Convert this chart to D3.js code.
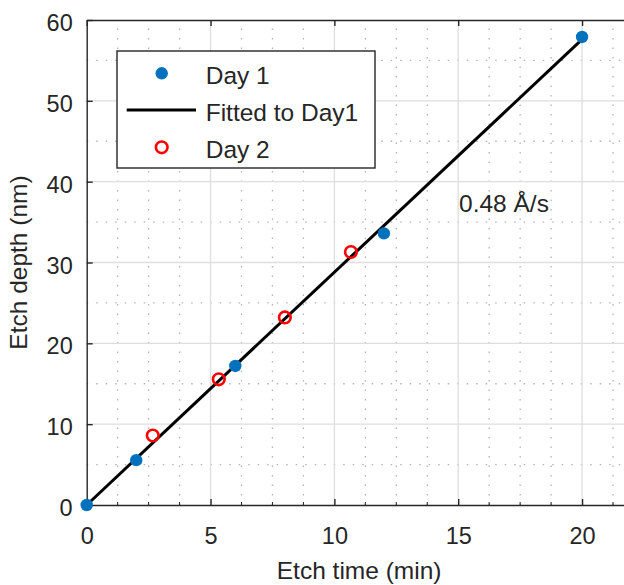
<!DOCTYPE html>
<html>
<head>
<meta charset="utf-8">
<script src="https://cdn.jsdelivr.net/npm/d3@7"></script>
<style>
  html, body { margin: 0; padding: 0; background: #fff; }
  svg { display: block; }
  text { font-family: "Liberation Sans", Arial, sans-serif; fill: #262626; }
</style>
</head>
<body>
<script>
// Etch depth measurements (time in min, depth in nm)
const day1Time  = [0, 2, 6, 12, 20];
const day1Depth = [0, 5.55, 17.2, 33.6, 57.9];
const day2Time  = [2.667, 5.333, 8, 10.667];
const day2Depth = [8.6, 15.55, 23.2, 31.3];

// Linear fit to Day 1: 0.48 Å/s = 2.88 nm/min
const rateAngstromPerSec = 0.48;
const fitSlope = rateAngstromPerSec * 0.1 * 60; // nm/min
const fitRange = [0, 20];

const xTicks = [0, 5, 10, 15, 20];
const yTicks = [0, 10, 20, 30, 40, 50, 60];
const xMinorStep = 1.25;
const yMinorStep = 5;

const legendLabels = ["Day 1", "Fitted to Day1", "Day 2"];
const annotationText = "0.48 Å/s";

const W = 624, H = 585;
const blue = "#0072BD", red = "#FF0000", axisColor = "#262626";

const svg = d3.select("body").append("svg").attr("width", W).attr("height", H);

const x = d3.scaleLinear().domain([0, 22]).range([86.7, 631.6]);
const y = d3.scaleLinear().domain([0, 60]).range([505, 20]);
const [x0, x1] = x.range();
const [yB, yT] = y.range();

// minor grid (dotted)
const xMinor = d3.range(0, 22 + 1e-9, xMinorStep).filter(v => Math.abs(v / 5 - Math.round(v / 5)) > 1e-6);
const yMinor = d3.range(0, 60 + 1e-9, yMinorStep).filter(v => v % 10 !== 0);
const grid = svg.append("g");
grid.selectAll("line.xm").data(xMinor).join("line")
  .attr("x1", d => x(d)).attr("x2", d => x(d)).attr("y1", yB).attr("y2", yT)
  .attr("stroke", "#b4b4b4").attr("stroke-width", 1.3).attr("stroke-dasharray", "1.5 8");
grid.selectAll("line.ym").data(yMinor).join("line")
  .attr("y1", d => y(d)).attr("y2", d => y(d)).attr("x1", x0).attr("x2", x1)
  .attr("stroke", "#b4b4b4").attr("stroke-width", 1.3).attr("stroke-dasharray", "1.5 8");

// major grid (solid, light)
grid.selectAll("line.xM").data(xTicks.filter(d => d > 0)).join("line")
  .attr("x1", d => x(d)).attr("x2", d => x(d)).attr("y1", yB).attr("y2", yT)
  .attr("stroke", "#dedede").attr("stroke-width", 1.3);
grid.selectAll("line.yM").data(yTicks.filter(d => d > 0 && d < 60)).join("line")
  .attr("y1", d => y(d)).attr("y2", d => y(d)).attr("x1", x0).attr("x2", x1)
  .attr("stroke", "#dedede").attr("stroke-width", 1.3);

// axes with inward ticks
const axisStyle = g => {
  g.select(".domain").attr("stroke", axisColor).attr("stroke-width", 1.4);
  g.selectAll(".tick line").attr("stroke", axisColor).attr("stroke-width", 1.4);
  g.selectAll(".tick text").attr("font-size", 23.5).attr("fill", axisColor)
    .style("font-family", '"Liberation Sans", Arial, sans-serif');
};

svg.append("g").attr("transform", `translate(0,${yB})`)
  .call(d3.axisBottom(x).tickValues(xTicks).tickSize(-6).tickSizeOuter(0).tickPadding(0))
  .call(axisStyle)
  .call(g => g.selectAll(".tick text").attr("y", 39).attr("dy", null));

svg.append("g").attr("transform", `translate(0,${yT})`)
  .call(d3.axisTop(x).tickValues(xTicks).tickSize(-6).tickSizeOuter(0).tickFormat(""))
  .call(axisStyle);

svg.append("g").attr("transform", `translate(${x0},0)`)
  .call(d3.axisLeft(y).tickValues(yTicks).tickSize(-6).tickSizeOuter(0))
  .call(axisStyle)
  .call(g => g.selectAll(".tick text").attr("x", -14).attr("dy", "0.45em"));

// minor ticks on bottom axis
svg.append("g").selectAll("line").data(xMinor).join("line")
  .attr("x1", d => x(d)).attr("x2", d => x(d)).attr("y1", yB).attr("y2", yB - 3)
  .attr("stroke", axisColor).attr("stroke-width", 1);

// axis titles
svg.append("text").attr("x", (x0 + x1) / 2).attr("y", 579)
  .attr("text-anchor", "middle").attr("font-size", 24.5).text("Etch time (min)");
svg.append("text").attr("transform", `translate(27,${(yT + yB) / 2}) rotate(-90)`)
  .attr("text-anchor", "middle").attr("font-size", 24.5).text("Etch depth (nm)");

// fitted line
svg.append("line")
  .attr("x1", x(fitRange[0])).attr("y1", y(fitSlope * fitRange[0]))
  .attr("x2", x(fitRange[1])).attr("y2", y(fitSlope * fitRange[1]))
  .attr("stroke", "#000").attr("stroke-width", 3);

// Day 1 points
svg.append("g").selectAll("circle").data(day1Time.map((t, i) => [t, day1Depth[i]])).join("circle")
  .attr("cx", d => x(d[0])).attr("cy", d => y(d[1])).attr("r", 6.2).attr("fill", blue);

// Day 2 points
svg.append("g").selectAll("circle").data(day2Time.map((t, i) => [t, day2Depth[i]])).join("circle")
  .attr("cx", d => x(d[0])).attr("cy", d => y(d[1])).attr("r", 5.8)
  .attr("fill", "none").attr("stroke", red).attr("stroke-width", 2.6);

// rate annotation
svg.append("text").attr("x", 459).attr("y", 212).attr("font-size", 24.5).text(annotationText);

// legend
const lg = svg.append("g");
lg.append("rect").attr("x", 117).attr("y", 51).attr("width", 258).attr("height", 117)
  .attr("fill", "#fff").attr("stroke", axisColor).attr("stroke-width", 1.4);
const rows = [73.3, 110, 147.3];
lg.append("circle").attr("cx", 161.7).attr("cy", rows[0]).attr("r", 6.2).attr("fill", blue);
lg.append("line").attr("x1", 126.7).attr("x2", 196).attr("y1", rows[1]).attr("y2", rows[1])
  .attr("stroke", "#000").attr("stroke-width", 3);
lg.append("circle").attr("cx", 161.7).attr("cy", rows[2]).attr("r", 5.8)
  .attr("fill", "none").attr("stroke", red).attr("stroke-width", 2.6);
lg.selectAll("text").data(legendLabels).join("text")
  .attr("x", 205.7).attr("y", (d, i) => rows[i] + 2)
  .attr("dominant-baseline", "central").attr("font-size", 24.5).text(d => d);
</script>
</body>
</html>
